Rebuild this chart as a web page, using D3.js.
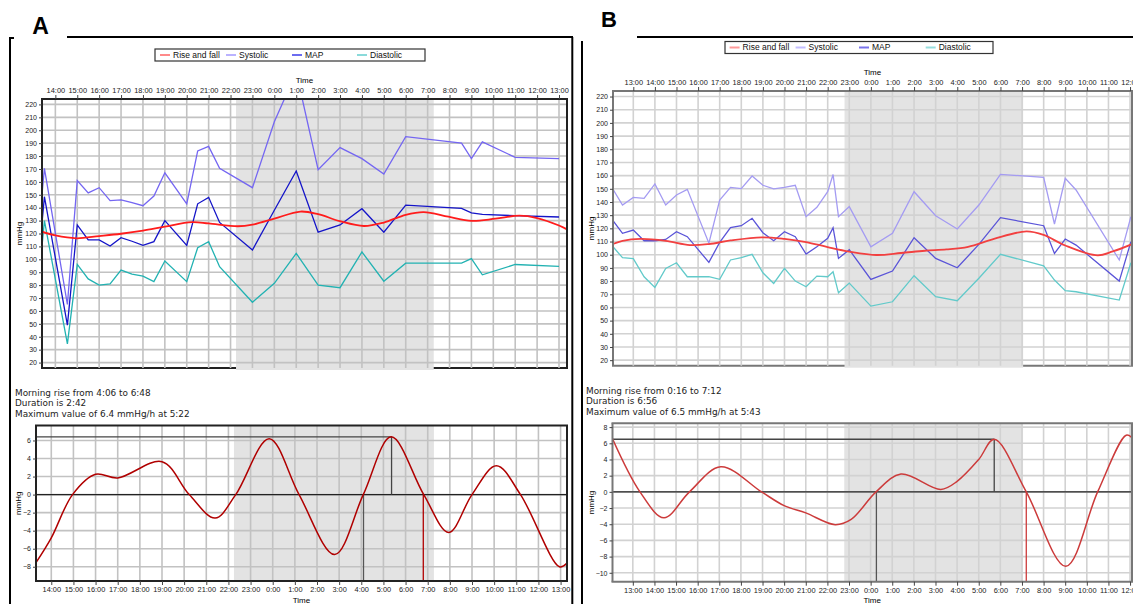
<!DOCTYPE html>
<html>
<head>
<meta charset="utf-8" />
<script src="https://cdn.jsdelivr.net/npm/d3@7/dist/d3.min.js"></script>
<style>
  body { margin: 0; background: #fff; }
  svg text { font-family: "Liberation Sans", Arial, sans-serif; }
</style>
</head>
<body>
<script>
// ---- panel A: blood pressure readings (hours, >24 = next day)
var timesA = [13.39, 13.5, 14.55, 15, 15.5, 16, 16.5, 17, 17.5, 18, 18.5, 19, 20, 20.5, 21, 21.5, 23, 24, 25, 26, 27, 28, 29, 30, 32.55, 33, 33.5, 35, 37];
var sysA = [150, 170.5, 65, 161, 151.5, 155.5, 145.5, 146, 144, 141.5, 149, 167, 143, 184, 187.5, 170.5, 155.5, 206.5, 245, 169.5, 186.5, 178, 166, 195, 190, 178, 191, 179, 178];
var mapA = [128, 148.5, 49, 126.6, 115, 115, 110.3, 116.8, 114, 110.8, 113.7, 130, 110.8, 143, 148, 128.6, 107.2, 138, 168.4, 121, 126.6, 139.2, 121, 142, 139.5, 136, 134.8, 133.8, 132.8];
var diaA = [110, 130, 34.5, 96, 84.8, 80, 81, 91.7, 88.6, 87, 82.7, 98.7, 82.7, 109, 113.7, 94.3, 66.7, 81.4, 104.6, 80, 78, 105.7, 83, 97, 97, 100.5, 88, 96, 94.6];
var rfTimesA = [13.39, 14.0, 14.96, 16.0, 17.0, 18.0, 19.0, 20.23, 21.0, 22.33, 23.0, 24.0, 25.19, 26.0, 27.0, 28.09, 29.0, 30.0, 30.82, 31.95, 33.0, 34.1, 35.19, 36.0, 37.0, 37.365];
var rfA = [121.4, 118.5, 116.3, 118, 119.8, 122.2, 125.3, 128.8, 127.8, 125.6, 126.8, 131.5, 137.0, 135.0, 129.5, 125.8, 128.5, 134.5, 136.6, 133.0, 129.8, 131.5, 133.8, 132.0, 126.2, 123.2];
var drTimesA = [13.31, 14.0, 14.96, 16.0, 17.0, 19.0, 20.23, 21.4, 22.33, 23.84, 25.19, 26.8, 28.09, 29.35, 30.82, 31.95, 33.0, 34.1, 35.19, 36.95, 37.29];
var drA = [-7.55, -4.8, 0, 2.25, 1.85, 3.65, 0, -2.6, 0, 6.2, 0, -6.65, 0, 6.4, 0, -4.2, 0, 3.2, 0, -8.0, -7.6];
var notesA = ["Morning rise from 4:06 to 6:48", "Duration is 2:42", "Maximum value of 6.4 mmHg/h at 5:22"];
var riseStartA = 28.1, riseEndA = 30.8, peakTimeA = 29.367, peakValA = 6.4;
var nightA = [22.25, 31.28];

// ---- panel B
var timesB = [12.06, 12.5, 13, 13.5, 14, 14.5, 15, 15.5, 16.5, 17, 17.5, 18, 18.5, 19, 19.5, 20, 20.5, 21, 21.5, 22, 22.25, 22.5, 23, 24, 25, 26, 27, 28, 29, 30, 32, 32.5, 33, 33.5, 35.5, 36.04];
var sysB = [149.6, 137.7, 143.5, 142.8, 153.7, 137.7, 145.3, 149.6, 108.7, 141.5, 151.1, 150.1, 159.7, 152.7, 149.9, 151.1, 152.7, 128.9, 136, 147.8, 160.8, 128.9, 136.5, 106, 116.2, 147.8, 129.6, 119.5, 137.7, 161, 158.7, 123.3, 158, 149.1, 96, 128.9];
var mapB = [125.8, 116.2, 118.7, 110.6, 110.6, 111.6, 117.5, 113.7, 94.2, 109.4, 120.5, 122, 127.6, 116.7, 110.6, 117.5, 113.7, 100.5, 106.1, 112.4, 120.5, 97.2, 103.8, 81.3, 87.6, 112.9, 97.2, 90.1, 107.8, 128.1, 122, 101, 111.9, 107.3, 80, 109.9];
var diaB = [106.1, 97.7, 97, 83.3, 75.2, 89.6, 93.9, 83.3, 83.3, 81.3, 96, 97.7, 100.3, 86.3, 78.2, 89.6, 80, 75.7, 83.8, 83.3, 87.1, 71.1, 78.5, 61, 64.3, 84.1, 68.1, 65.1, 82.1, 100.3, 91.6, 80.8, 72.7, 71.9, 65.6, 93.9];
var rfTimesB = [12.06, 12.5, 13.33, 14.5, 15.62, 16.5, 17.5, 18.95, 20, 21, 22, 23, 24.25, 25.4, 26.5, 27.5, 28.5, 29.7, 31.2, 32, 33, 34.5, 35.2, 36.09];
var rfB = [108.1, 110.5, 112, 110.5, 107.3, 108.1, 110.8, 113.2, 112, 109.6, 105.8, 102.4, 99.8, 101.3, 103, 104, 106, 112, 117.7, 115, 107, 99.5, 102.5, 108];
var drTimesB = [12.06, 13.33, 14.44, 15.62, 17.07, 18.95, 20, 21, 22.36, 23.1, 24.25, 25.4, 27.25, 28.0, 29.0, 29.72, 31.2, 33.03, 34.5, 35.82, 36.09];
var drB = [6.55, 0, -3.2, 0, 3.1, 0, -1.7, -2.6, -4.05, -3.4, 0, 2.2, 0.3, 1.3, 4.0, 6.5, 0, -9.2, 0, 7.0, 6.7];
var notesB = ["Morning rise from 0:16 to 7:12", "Duration is 6:56", "Maximum value of 6.5 mmHg/h at 5:43"];
var riseStartB = 24.267, riseEndB = 31.2, peakTimeB = 29.717, peakValB = 6.5;
var nightB = [22.78, 31.05];

// ---- ticks / labels
var tickLabelsA = ["14:00", "15:00", "16:00", "17:00", "18:00", "19:00", "20:00", "21:00", "22:00", "23:00", "0:00", "1:00", "2:00", "3:00", "4:00", "5:00", "6:00", "7:00", "8:00", "9:00", "10:00", "11:00", "12:00", "13:00"];
var firstTickA = 14;
var tickLabelsB = ["13:00", "14:00", "15:00", "16:00", "17:00", "18:00", "19:00", "20:00", "21:00", "22:00", "23:00", "0:00", "1:00", "2:00", "3:00", "4:00", "5:00", "6:00", "7:00", "8:00", "9:00", "10:00", "11:00", "12:00"];
var firstTickB = 13;
var mmTicks = [20, 30, 40, 50, 60, 70, 80, 90, 100, 110, 120, 130, 140, 150, 160, 170, 180, 190, 200, 210, 220];
var dTicksA = [6, 4, 2, 0, -2, -4, -6, -8];
var dTicksB = [8, 6, 4, 2, 0, -2, -4, -6, -8, -10];
var legendNames = ["Rise and fall", "Systolic", "MAP", "Diastolic"];

var svg = d3.select("body").append("svg")
    .attr("width", 1133)
    .attr("height", 604);

function pairs(t, v) {
    return t.map(function (d, i) { return [d, v[i]]; });
}

function styleAxis(sel, size) {
    sel.select(".domain").remove();
    sel.selectAll("text").attr("font-size", size).attr("fill", "#222");
    sel.selectAll("line").attr("stroke", "#444");
}

function frame(g, o) {
    g.append("line").attr("x1", o.x0).attr("x2", o.x0).attr("y1", o.y0).attr("y2", o.y1)
        .attr("stroke", o.border).attr("stroke-width", 2);
    g.append("line").attr("x1", o.x0 - 1).attr("x2", o.x1 + 1).attr("y1", o.y0).attr("y2", o.y0)
        .attr("stroke", o.border).attr("stroke-width", 2);
    g.append("line").attr("x1", o.x1).attr("x2", o.x1).attr("y1", o.y0).attr("y2", o.y1)
        .attr("stroke", o.border).attr("stroke-width", 2);
}

function grid(g, o, x, y, hrs, yt) {
    g.selectAll(null).data(hrs).enter().append("line")
        .attr("x1", x).attr("x2", x).attr("y1", o.y0).attr("y2", o.y1)
        .attr("stroke", o.grid).attr("stroke-width", 1.6);
    g.selectAll(null).data(yt).enter().append("line")
        .attr("x1", o.x0).attr("x2", o.x1).attr("y1", y).attr("y2", y)
        .attr("stroke", o.grid).attr("stroke-width", 1.6);
}

function drawTop(o) {
    var g = svg.append("g");
    var x = d3.scaleLinear().domain(o.xDom).range([o.x0, o.x1]);
    var y = d3.scaleLinear().domain([15.8, 224.2]).range([o.y1, o.y0]);
    var hrs = o.ticks.map(function (t, i) { return o.firstTick + i; });

    svg.append("clipPath").attr("id", o.id)
        .append("rect").attr("x", o.x0).attr("y", o.y0).attr("width", o.x1 - o.x0).attr("height", o.y1 - o.y0);

    g.append("line").attr("x1", o.x0 - 1).attr("x2", o.x1 + 1).attr("y1", o.y1).attr("y2", o.y1)
        .attr("stroke", o.border).attr("stroke-width", 2);
    g.append("rect")
        .attr("x", x(o.night[0])).attr("y", o.y0)
        .attr("width", x(o.night[1]) - x(o.night[0])).attr("height", o.y1 - o.y0 + 2)
        .attr("fill", "#e3e3e3");
    grid(g, o, x, y, hrs, mmTicks);

    var line = d3.line().x(function (d) { return x(d[0]); }).y(function (d) { return y(d[1]); });
    var lines = g.append("g").attr("clip-path", "url(#" + o.id + ")");
    lines.append("path").datum(pairs(o.t, o.sys)).attr("d", line)
        .attr("fill", "none").attr("stroke", o.col[1]).attr("stroke-width", 1.3);
    lines.append("path").datum(pairs(o.t, o.dia)).attr("d", line)
        .attr("fill", "none").attr("stroke", o.col[3]).attr("stroke-width", 1.3);
    lines.append("path").datum(pairs(o.t, o.map)).attr("d", line)
        .attr("fill", "none").attr("stroke", o.col[2]).attr("stroke-width", 1.3);
    lines.append("path").datum(pairs(o.rfT, o.rf)).attr("d", line.curve(d3.curveCatmullRom.alpha(0.5)))
        .attr("fill", "none").attr("stroke", o.col[0]).attr("stroke-width", 1.8);

    frame(g, o);

    g.append("g").attr("transform", "translate(0," + o.y0 + ")")
        .call(d3.axisTop(x).tickValues(hrs).tickFormat(function (d, i) { return o.ticks[i]; }).tickSize(4).tickPadding(2))
        .call(styleAxis, 7.4);
    g.append("g").attr("transform", "translate(" + o.x0 + ",0)")
        .call(d3.axisLeft(y).tickValues(mmTicks).tickSize(3).tickPadding(2))
        .call(styleAxis, 7);

    g.append("text").attr("x", (o.x0 + o.x1) / 2).attr("y", o.y0 - 16)
        .attr("text-anchor", "middle").attr("font-size", 8).text("Time");
    g.append("text").attr("transform", "translate(" + o.labX + "," + ((o.y0 + o.y1) / 2) + ") rotate(-90)")
        .attr("text-anchor", "middle").attr("dy", "0.35em").attr("font-size", 8).text("mmHg");

    // legend
    var lg = g.append("g").attr("transform", "translate(" + o.lx + "," + o.ly + ")");
    lg.append("rect").attr("width", o.lw).attr("height", 12)
        .attr("fill", "#fff").attr("stroke", "#333").attr("stroke-width", 1.2);
    var item = lg.selectAll(null).data(legendNames).enter().append("g")
        .attr("transform", function (d, i) { return "translate(" + o.lOff[i] + ",6)"; });
    item.append("line").attr("x1", 0).attr("x2", 10)
        .attr("stroke", function (d, i) { return o.lcol[i]; }).attr("stroke-width", 2);
    item.append("text").attr("x", 13).attr("dy", "0.35em").attr("font-size", 8.5)
        .attr("fill", "#111").text(function (d) { return d; });
}

function drawBottom(o) {
    var g = svg.append("g");
    var x = d3.scaleLinear().domain(o.xDom).range([o.x0, o.x1]);
    var y = d3.scaleLinear().domain(o.yDom).range([o.y1, o.y0]);
    var hrs = o.ticks.map(function (t, i) { return o.firstTick + i; });

    svg.append("clipPath").attr("id", o.id)
        .append("rect").attr("x", o.x0).attr("y", o.y0).attr("width", o.x1 - o.x0).attr("height", o.y1 - o.y0);

    g.append("rect")
        .attr("x", x(o.night[0])).attr("y", o.y0)
        .attr("width", x(o.night[1]) - x(o.night[0])).attr("height", o.y1 - o.y0)
        .attr("fill", "#e3e3e3");
    grid(g, o, x, y, hrs, o.yTicks);

    g.append("line").attr("x1", o.x0).attr("x2", o.x1).attr("y1", y(0)).attr("y2", y(0))
        .attr("stroke", "#222").attr("stroke-width", 1.3);

    // morning rise markers
    g.append("line").attr("x1", o.x0).attr("x2", x(o.peakT)).attr("y1", y(o.peakV)).attr("y2", y(o.peakV))
        .attr("stroke", "#444").attr("stroke-width", 1.3);
    g.append("line").attr("x1", x(o.peakT)).attr("x2", x(o.peakT)).attr("y1", y(o.peakV)).attr("y2", y(0))
        .attr("stroke", "#444").attr("stroke-width", 1.3);
    g.append("line").attr("x1", x(o.riseS)).attr("x2", x(o.riseS)).attr("y1", y(0)).attr("y2", o.y1)
        .attr("stroke", "#555").attr("stroke-width", 1.3);
    g.append("line").attr("x1", x(o.riseE)).attr("x2", x(o.riseE)).attr("y1", y(0)).attr("y2", o.y1)
        .attr("stroke", o.curveCol).attr("stroke-width", 1.3);

    var line = d3.line().curve(d3.curveCatmullRom.alpha(0.5))
        .x(function (d) { return x(d[0]); }).y(function (d) { return y(d[1]); });
    g.append("g").attr("clip-path", "url(#" + o.id + ")")
        .append("path").datum(pairs(o.drT, o.dr)).attr("d", line)
        .attr("fill", "none").attr("stroke", o.curveCol).attr("stroke-width", 1.5);

    frame(g, o);
    g.append("line").attr("x1", o.x0 - 1).attr("x2", o.x1 + 1).attr("y1", o.y1).attr("y2", o.y1)
        .attr("stroke", o.border).attr("stroke-width", 2);

    g.append("g").attr("transform", "translate(0," + o.y1 + ")")
        .call(d3.axisBottom(x).tickValues(hrs).tickFormat(function (d, i) { return o.ticks[i]; }).tickSize(4).tickPadding(2))
        .call(styleAxis, 7.4);
    g.append("g").attr("transform", "translate(" + o.x0 + ",0)")
        .call(d3.axisLeft(y).tickValues(o.yTicks).tickSize(3).tickPadding(2))
        .call(styleAxis, 7);

    g.append("text").attr("x", (o.x0 + o.x1) / 2).attr("y", 603)
        .attr("text-anchor", "middle").attr("font-size", 8).text("Time");
    g.append("text").attr("transform", "translate(" + o.labX + "," + ((o.y0 + o.y1) / 2) + ") rotate(-90)")
        .attr("text-anchor", "middle").attr("dy", "0.35em").attr("font-size", 8).text("mmHg");

    g.selectAll(null).data(o.notes).enter().append("text")
        .attr("x", o.nx).attr("y", function (d, i) { return o.ny + i * 10.3; })
        .style("font-family", "'DejaVu Sans', Verdana, sans-serif").style("font-size", "8.9px")
        .attr("fill", "#222")
        .text(function (d) { return d; });
}

// panel frames and letters
svg.append("path").attr("d", "M14,38 H10 V604").attr("fill", "none").attr("stroke", "#000").attr("stroke-width", 2);
svg.append("line").attr("x1", 67).attr("x2", 573).attr("y1", 37).attr("y2", 37).attr("stroke", "#000").attr("stroke-width", 2);
svg.append("line").attr("x1", 572.3).attr("x2", 572.3).attr("y1", 37).attr("y2", 604).attr("stroke", "#000").attr("stroke-width", 2);
svg.append("line").attr("x1", 637).attr("x2", 1133).attr("y1", 37).attr("y2", 37).attr("stroke", "#000").attr("stroke-width", 2);
svg.append("line").attr("x1", 582).attr("x2", 582).attr("y1", 41).attr("y2", 604).attr("stroke", "#000").attr("stroke-width", 2);
svg.append("text").attr("x", 40.5).attr("y", 33.5).attr("text-anchor", "middle")
    .attr("font-size", 23).attr("font-weight", "bold").text("A");
svg.append("text").attr("x", 609).attr("y", 27).attr("text-anchor", "middle")
    .attr("font-size", 22).attr("font-weight", "bold").text("B");

drawTop({
    id: "clipAT", x0: 42, x1: 567, y0: 99, y1: 368, xDom: [13.39, 37.365],
    night: nightA, ticks: tickLabelsA, firstTick: firstTickA,
    t: timesA, sys: sysA, map: mapA, dia: diaA, rfT: rfTimesA, rf: rfA,
    col: ["#ff1c1c", "#7466f2", "#1414c8", "#22b2b2"],
    lcol: ["#ff8a8a", "#bab2ff", "#6c6cf0", "#8adada"],
    grid: "#c2c2c2", border: "#222", labX: 19,
    lx: 155, ly: 49, lw: 270, lOff: [5, 71, 137, 202]
});
drawBottom({
    id: "clipAB", x0: 36, x1: 567, y0: 425.5, y1: 581, xDom: [13.31, 37.29], yDom: [-9.58, 7.66],
    night: nightA, ticks: tickLabelsA, firstTick: firstTickA, yTicks: dTicksA,
    drT: drTimesA, dr: drA, curveCol: "#b00000",
    riseS: riseStartA, riseE: riseEndA, peakT: peakTimeA, peakV: peakValA,
    grid: "#c2c2c2", border: "#222", labX: 18,
    notes: notesA, nx: 15, ny: 396
});
drawTop({
    id: "clipBT", x0: 613, x1: 1132, y0: 91, y1: 365.7, xDom: [12.06, 36.09],
    night: nightB, ticks: tickLabelsB, firstTick: firstTickB,
    t: timesB, sys: sysB, map: mapB, dia: diaB, rfT: rfTimesB, rf: rfB,
    col: ["#f24040", "#a49bf2", "#5a54d8", "#62caca"],
    lcol: ["#ff9a9a", "#c4beff", "#7a74ec", "#98dede"],
    grid: "#d2d2d2", border: "#777", labX: 591,
    lx: 725, ly: 41.5, lw: 268, lOff: [4.6, 70.6, 134, 200.7]
});
drawBottom({
    id: "clipBB", x0: 612.5, x1: 1132, y0: 423.3, y1: 581.7, xDom: [12.06, 36.09], yDom: [-11.1, 8.47],
    night: nightB, ticks: tickLabelsB, firstTick: firstTickB, yTicks: dTicksB,
    drT: drTimesB, dr: drB, curveCol: "#cc3b3b",
    riseS: riseStartB, riseE: riseEndB, peakT: peakTimeB, peakV: peakValB,
    grid: "#d2d2d2", border: "#777", labX: 591,
    notes: notesB, nx: 586, ny: 394
});
</script>
</body>
</html>
